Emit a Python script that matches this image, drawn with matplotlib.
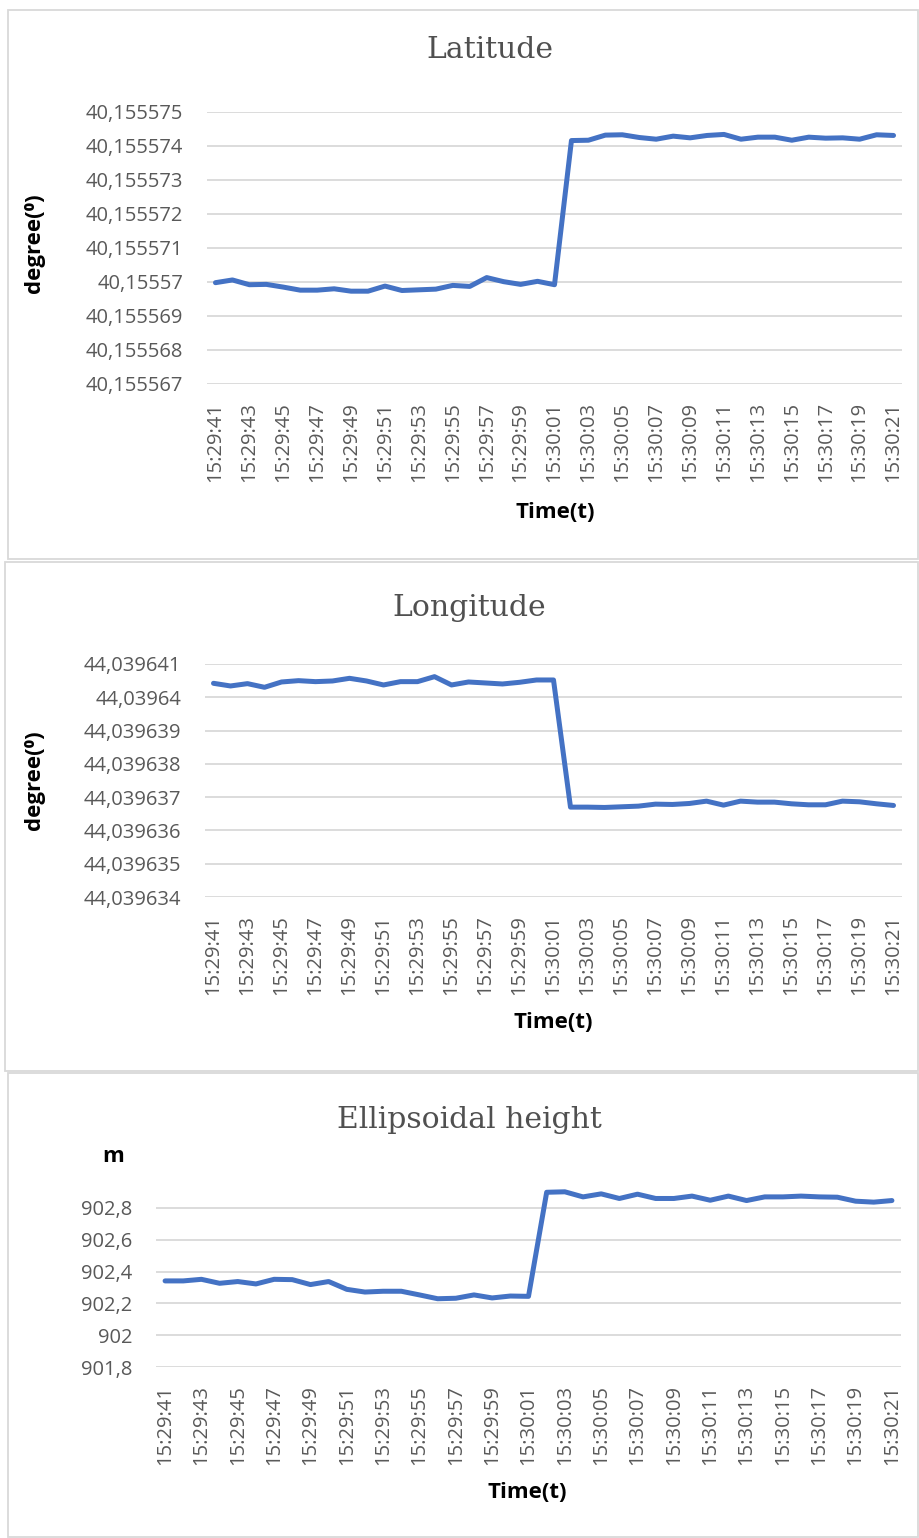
import numpy as np
import matplotlib.pyplot as plt
from matplotlib.patches import Rectangle

times = ["15:29:41", "15:29:42", "15:29:43", "15:29:44", "15:29:45", "15:29:46",
         "15:29:47", "15:29:48", "15:29:49", "15:29:50", "15:29:51", "15:29:52",
         "15:29:53", "15:29:54", "15:29:55", "15:29:56", "15:29:57", "15:29:58",
         "15:29:59", "15:30:00", "15:30:01", "15:30:02", "15:30:03", "15:30:04",
         "15:30:05", "15:30:06", "15:30:07", "15:30:08", "15:30:09", "15:30:10",
         "15:30:11", "15:30:12", "15:30:13", "15:30:14", "15:30:15", "15:30:16",
         "15:30:17", "15:30:18", "15:30:19", "15:30:20", "15:30:21"]

latitude = [40.15556998, 40.15557006, 40.15556992, 40.15556993, 40.15556985,
            40.15556976, 40.15556976, 40.1555698, 40.15556973, 40.15556973,
            40.15556988, 40.15556975, 40.15556977, 40.15556979, 40.1555699,
            40.15556987, 40.15557013, 40.15557001, 40.15556993, 40.15557002,
            40.15556992, 40.15557416, 40.15557417, 40.15557432, 40.15557433,
            40.15557425, 40.1555742, 40.15557429, 40.15557424, 40.15557431,
            40.15557434, 40.1555742, 40.15557426, 40.15557426, 40.15557417,
            40.15557426, 40.15557423, 40.15557424, 40.1555742, 40.15557433,
            40.15557431]

longitude = [44.03964042, 44.03964034, 44.03964041, 44.0396403, 44.03964046,
             44.0396405, 44.03964047, 44.03964049, 44.03964057, 44.03964049,
             44.03964037, 44.03964047, 44.03964047, 44.03964062, 44.03964037,
             44.03964046, 44.03964043, 44.0396404, 44.03964045, 44.03964052,
             44.03964052, 44.0396367, 44.0396367, 44.03963669, 44.03963671,
             44.03963673, 44.03963679, 44.03963678, 44.03963681, 44.03963688,
             44.03963676, 44.03963688, 44.03963685, 44.03963685, 44.0396368,
             44.03963677, 44.03963677, 44.03963688, 44.03963686, 44.0396368,
             44.03963675]

height = [902.341, 902.341, 902.351, 902.326, 902.337, 902.322, 902.351, 902.349,
          902.318, 902.337, 902.288, 902.271, 902.276, 902.276, 902.253, 902.229,
          902.232, 902.253, 902.234, 902.246, 902.244, 902.898, 902.901, 902.869,
          902.888, 902.859, 902.886, 902.859, 902.859, 902.874, 902.848, 902.874,
          902.846, 902.869, 902.869, 902.874, 902.869, 902.867, 902.842, 902.836,
          902.846]

lat_ticks = [40.155567, 40.155568, 40.155569, 40.15557, 40.155571,
             40.155572, 40.155573, 40.155574, 40.155575]
lon_ticks = [44.039634, 44.039635, 44.039636, 44.039637,
             44.039638, 44.039639, 44.03964, 44.039641]
h_ticks = [901.8, 902.0, 902.2, 902.4, 902.6, 902.8]

W, H = 919, 1538
BLUE = "#4472C4"
GRAY = "#595959"
SANS = ["Open Sans", "DejaVu Sans"]


def excel_fmt(v, pos=None):
    s = f"{v:.6f}".rstrip("0").rstrip(".")
    return s.replace(".", ",")


def px_axes(fig, x0, y0, x1, y1):
    # pixel box (top-left origin) -> axes
    return fig.add_axes([x0 / W, 1 - y1 / H, (x1 - x0) / W, (y1 - y0) / H])


def label(fig, x, y, txt, rot=0):
    fig.text(x / W, 1 - y / H, txt, rotation=rot, ha="center", va="center",
             fontsize=16, fontweight="bold", family=SANS)


def panel(ax, values, ticks, ylim, title_xy, title):
    x = np.arange(len(values))
    ax.plot(x, values, color=BLUE, lw=3.6, solid_joinstyle="round",
            solid_capstyle="round", zorder=3, clip_on=False)
    ax.set_xlim(-0.5, len(values) - 0.5)
    ax.set_ylim(*ylim)
    ax.set_yticks(ticks)
    ax.yaxis.set_major_formatter(plt.FuncFormatter(excel_fmt))
    ax.set_xticks(x[::2])
    ax.set_xticklabels(times[::2], rotation=90)
    ax.grid(axis="y", color="#d9d9d9", lw=1.3)
    ax.set_axisbelow(True)
    for s in ax.spines.values():
        s.set_visible(False)
    ax.tick_params(axis="both", length=0, labelcolor=GRAY, labelsize=14.5)
    ax.tick_params(axis="y", pad=17)
    ax.tick_params(axis="x", pad=13)
    for lab in ax.get_xticklabels() + ax.get_yticklabels():
        lab.set_family(SANS)
    fig.text(title_xy[0] / W, 1 - title_xy[1] / H, title, ha="center",
             va="center", fontsize=21.5, color="#505050", family="DejaVu Serif")


fig = plt.figure(figsize=(W / 100, H / 100), dpi=100)

# chart borders
for x0, y0, x1, y1 in [(8, 10, 918, 559), (5, 562, 918, 1071), (8, 1073, 918, 1537)]:
    fig.patches.append(Rectangle((x0 / W, 1 - y1 / H), (x1 - x0) / W, (y1 - y0) / H,
                                 transform=fig.transFigure, fill=False,
                                 ec="#d9d9d9", lw=1.3))

ax1 = px_axes(fig, 207, 112, 902, 384)
panel(ax1, latitude, lat_ticks, (40.155567, 40.155575), (490, 50), "Latitude")
label(fig, 35, 243, "degree(⁰)", 90)
label(fig, 555, 512, "Time(t)")

ax2 = px_axes(fig, 205, 664, 902, 897)
panel(ax2, longitude, lon_ticks, (44.039634, 44.039641), (469, 608), "Longitude")
label(fig, 35, 780, "degree(⁰)", 90)
label(fig, 553, 1023, "Time(t)")

ax3 = px_axes(fig, 156, 1184, 901, 1367)
panel(ax3, height, h_ticks, (901.8, 902.95), (469, 1120), "Ellipsoidal height")
label(fig, 113, 1157, "m")
label(fig, 527, 1492, "Time(t)")

fig.savefig("out.png", dpi=100)
